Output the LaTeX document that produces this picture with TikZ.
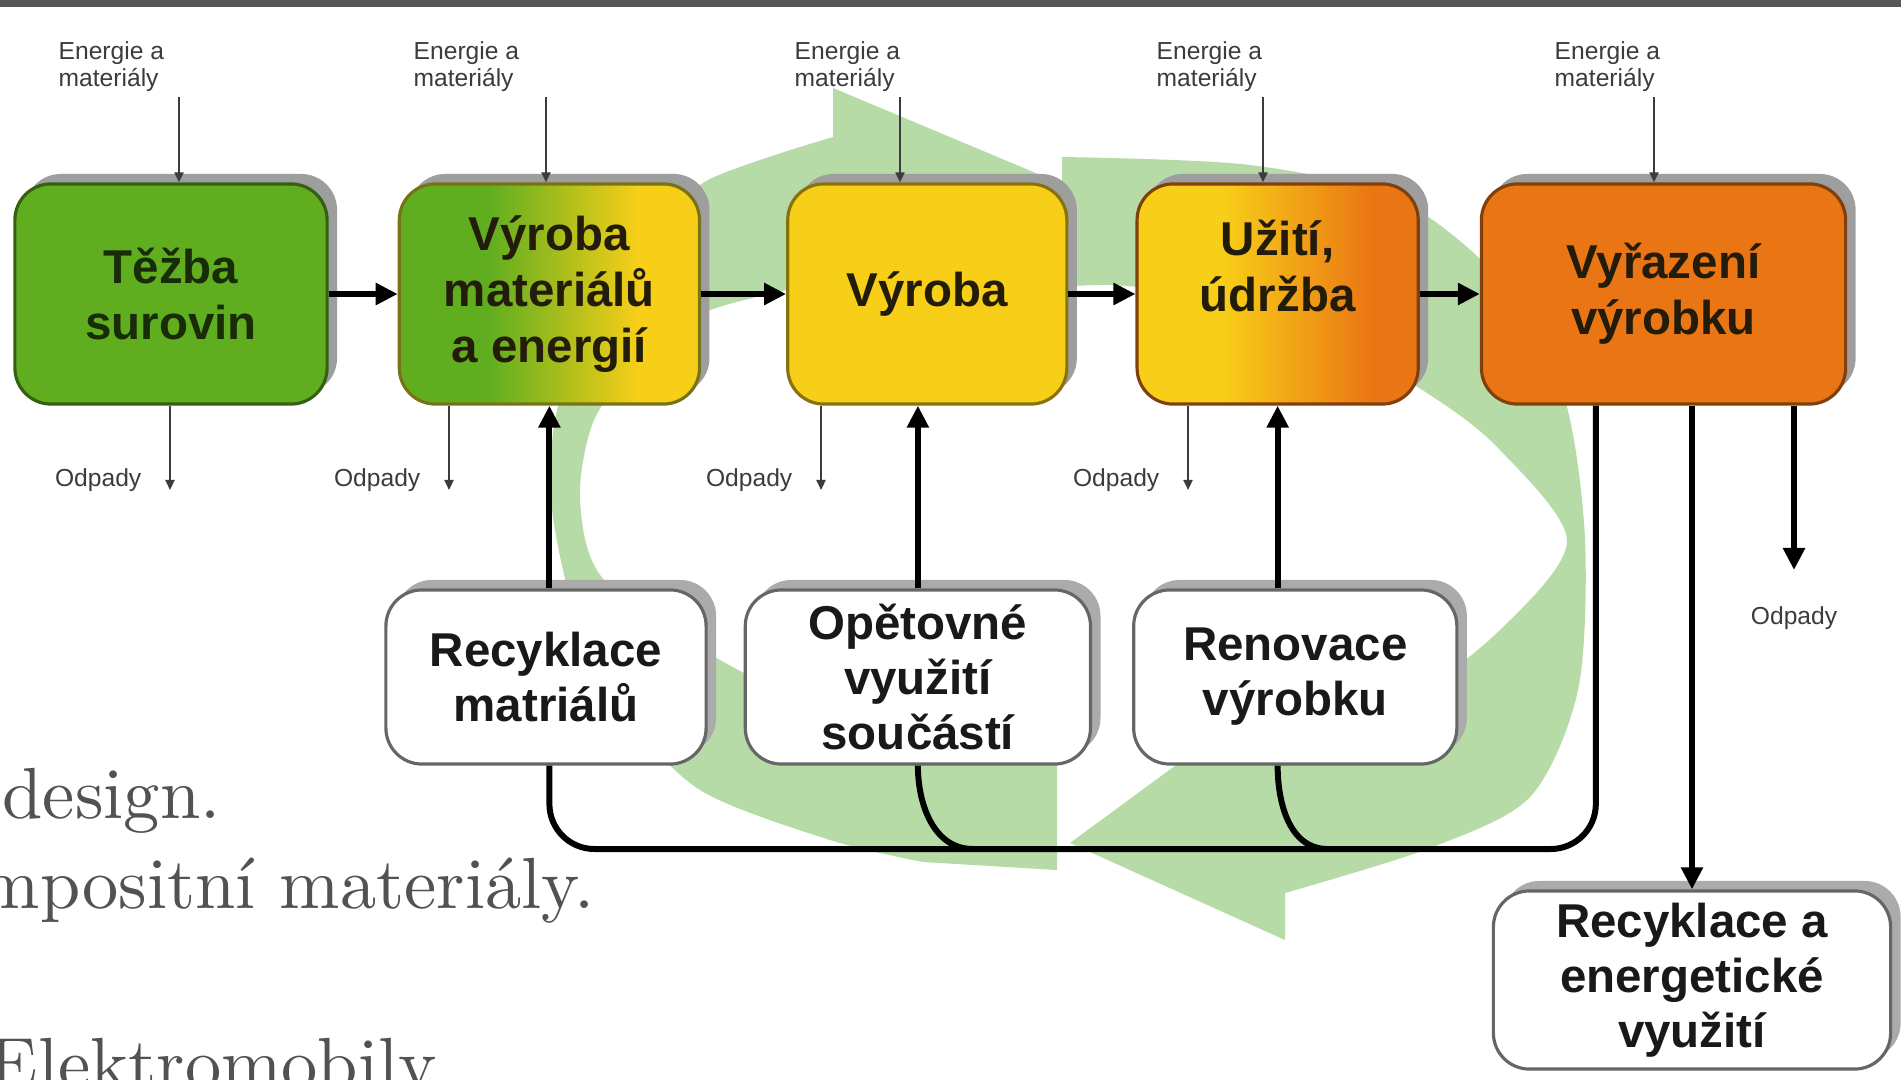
\documentclass[tikz,border=0pt]{standalone}
\usepackage{fontspec}
\newfontfamily\diagfont{Liberation Sans}
\newfontfamily\slidefont{lmroman10-regular.otf}
\usetikzlibrary{positioning,arrows.meta,shadows,calc}

\definecolor{stagegreen}{RGB}{96,174,32}
\definecolor{stageyellow}{RGB}{248,207,24}
\definecolor{stageorange}{RGB}{234,117,20}
\definecolor{ringgreen}{RGB}{182,219,166}
\definecolor{slidegray}{RGB}{82,82,82}
\definecolor{labelgray}{RGB}{60,60,60}
\definecolor{boxtext}{RGB}{35,28,10}

\pgfdeclarehorizontalshading{greentoyellow}{100bp}{color(0bp)=(stagegreen); color(40bp)=(stagegreen); color(65bp)=(stageyellow); color(100bp)=(stageyellow)}
\pgfdeclarehorizontalshading{yellowtoorange}{100bp}{color(0bp)=(stageyellow); color(40bp)=(stageyellow); color(67bp)=(stageorange); color(100bp)=(stageorange)}

\tikzset{
        % Stage boxes of the life cycle
        stagebox/.style={rectangle, rounded corners=0.36cm, line width=0.9pt, inner sep=0pt, align=center, text=boxtext,
            minimum height=2.2cm, font=\diagfont\bfseries\fontsize{13.5}{16}\selectfont,
            drop shadow={shadow xshift=0.1cm, shadow yshift=0.1cm, fill=black!38, opacity=1}},
        % Loop boxes (white)
        loopbox/.style={rectangle, rounded corners=0.36cm, line width=0.9pt, draw=black!60, fill=white, inner sep=0pt,
            align=center, text=black!90, minimum height=1.74cm, font=\diagfont\bfseries\fontsize{13.5}{15.6}\selectfont,
            drop shadow={shadow xshift=0.1cm, shadow yshift=0.1cm, fill=black!33, opacity=1}},
        % Small labels
        smalllabel/.style={inner sep=0pt, align=left, text=labelgray, font=\diagfont\fontsize{7}{7.7}\selectfont},
        % Arrows
        thinarrow/.style={draw=labelgray, line width=0.6pt, -{Triangle[length=0.1cm, width=0.09cm]}},
        flowarrow/.style={line width=1.7pt, -{Triangle[length=0.22cm, width=0.21cm]}},
        feedline/.style={line width=1.7pt, rounded corners=0.45cm},
        % Text of the slide behind
        slidetext/.style={inner sep=0pt, anchor=base west, text=slidegray, font=\slidefont\fontsize{20.6}{25}\selectfont}
}

\begin{document}
\begin{tikzpicture}[x=0.01cm, y=-0.01cm]
    \clip (0,0) rectangle (1901,1079);
    \fill[white] (0,0) rectangle (1901,1079);
    \fill[black!66] (0,0) rectangle (1901,7);

    % slide text
    \node[slidetext] (t1) at (2,818) {design.};
    \node[slidetext] (t2) at (-21,908) {mpositní materiály.};
    \node[slidetext] (t3) at (-12,1088) {Elektromobily};

    % green cycle arrows
    \fill[ringgreen] (833,88) -- (1100,200) -- (833,340) -- (833,287)
        -- plot[smooth] coordinates {(787,290) (703,313) (640,360) (594,420) (580,500) (604,580) (720,660) (900,745) (1057,762)}
        -- (1057,870)
        -- plot[smooth] coordinates {(923,862) (830,840) (700,790) (624,710) (574,610) (551,500) (557,410) (592,320) (650,235) (708,180) (833,137)}
        -- cycle;
    \fill[ringgreen] (1062,157)
        -- plot[smooth] coordinates {(1062,157) (1250,165) (1400,200) (1510,290) (1565,400) (1585,540) (1578,690) (1530,797) (1430,848) (1285,893)}
        -- (1285,940) -- (1070,843) -- (1285,685)
        -- plot[smooth] coordinates {(1285,745) (1400,705) (1500,630) (1567,541) (1500,450) (1430,395) (1300,320) (1137,287) (1062,287)}
        -- cycle;

    % stages
    \node[stagebox, fill=stagegreen, draw=stagegreen!55!black, text=stagegreen!25!black, minimum width=3.12cm] (B1) at (171,294) {Těžba\\surovin};
    \node[stagebox, shading=greentoyellow, draw=olive!80!black, minimum width=3cm, right=0.69cm of B1] (B2) {Výroba\\materiálů\\a energií};
    \node[stagebox, fill=stageyellow, draw=stageyellow!55!black, minimum width=2.79cm, right=0.85cm of B2] (B3) {Výroba};
    \node[stagebox, shading=yellowtoorange, draw=stageorange!55!black, minimum width=2.81cm, right=0.67cm of B3] (B4) {Užití,\\údržba\\\mbox{}};
    \node[stagebox, fill=stageorange, draw=stageorange!55!black, minimum width=3.64cm, right=0.6cm of B4] (B5) {Vyřazení\\výrobku};

    % loops
    \node[loopbox, minimum width=3.2cm] (L1) at (546,677) {Recyklace\\matriálů};
    \node[loopbox, minimum width=3.45cm, right=0.36cm of L1] (L2) {Opětovné\\využití\\součástí};
    \node[loopbox, minimum width=3.23cm, right=0.4cm of L2] (L3) {Renovace\\výrobku};
    \node[loopbox, minimum width=3.97cm, minimum height=1.78cm] (L4) at (1692,980) {Recyklace a\\energetické\\využití};

    % inputs
    \node[smalllabel, anchor=north west] (E1) at (58,41) {Energie a\\materiály};
    \node[smalllabel, anchor=north west] (E2) at (413,41) {Energie a\\materiály};
    \node[smalllabel, anchor=north west] (E3) at (794,41) {Energie a\\materiály};
    \node[smalllabel, anchor=north west] (E4) at (1156,41) {Energie a\\materiály};
    \node[smalllabel, anchor=north west] (E5) at (1554,41) {Energie a\\materiály};
    \coordinate (e1) at (179,97);
    \coordinate (e2) at (546,97);
    \coordinate (e3) at (900,97);
    \coordinate (e4) at (1263,97);
    \coordinate (e5) at (1654,97);
    \draw[thinarrow] (e1) -- (e1 |- B1.north);
    \draw[thinarrow] (e2) -- (e2 |- B2.north);
    \draw[thinarrow] (e3) -- (e3 |- B3.north);
    \draw[thinarrow] (e4) -- (e4 |- B4.north);
    \draw[thinarrow] (e5) -- (e5 |- B5.north);

    % waste
    \coordinate (w1) at (170,490);
    \coordinate (w2) at (449,490);
    \coordinate (w3) at (821,490);
    \coordinate (w4) at (1188,490);
    \coordinate (w5) at (1794,570);
    \draw[thinarrow] (w1 |- B1.south) -- (w1);
    \draw[thinarrow] (w2 |- B2.south) -- (w2);
    \draw[thinarrow] (w3 |- B3.south) -- (w3);
    \draw[thinarrow] (w4 |- B4.south) -- (w4);
    \draw[flowarrow] (w5 |- B5.south) -- (w5);
    \node[smalllabel, left=0.28cm of w1, yshift=0.1cm] (O1) {Odpady};
    \node[smalllabel, left=0.28cm of w2, yshift=0.1cm] (O2) {Odpady};
    \node[smalllabel, left=0.28cm of w3, yshift=0.1cm] (O3) {Odpady};
    \node[smalllabel, left=0.28cm of w4, yshift=0.1cm] (O4) {Odpady};
    \node[smalllabel, below=0.36cm of w5] (O5) {Odpady};

    % main flow
    \draw[flowarrow] (B1.east) -- (B2.west);
    \draw[flowarrow] (B2.east) -- (B3.west);
    \draw[flowarrow] (B3.east) -- (B4.west);
    \draw[flowarrow] (B4.east) -- (B5.west);

    % return loops
    \coordinate (bus) at (0,849);
    \draw[feedline] (B2.south |- L1.south) |- ($(bus -| B5.south west)+(116,0)$) -- ($(B5.south west)+(116,0)$);
    \draw[feedline] (L2.south) to[out=-90, in=180] ($(L2.south |- bus)+(55,0)$);
    \draw[feedline] (B4.south |- L3.south) to[out=-90, in=180] ($(B4.south |- bus)+(50,0)$);
    \draw[flowarrow] (B2.south |- L1.north) -- (B2.south);
    \draw[flowarrow] (L2.north) -- (L2.north |- B3.south);
    \draw[flowarrow] (B4.south |- L3.north) -- (B4.south);
    \draw[flowarrow] (L4.north |- B5.south) -- (L4.north);
\end{tikzpicture}
\end{document}
